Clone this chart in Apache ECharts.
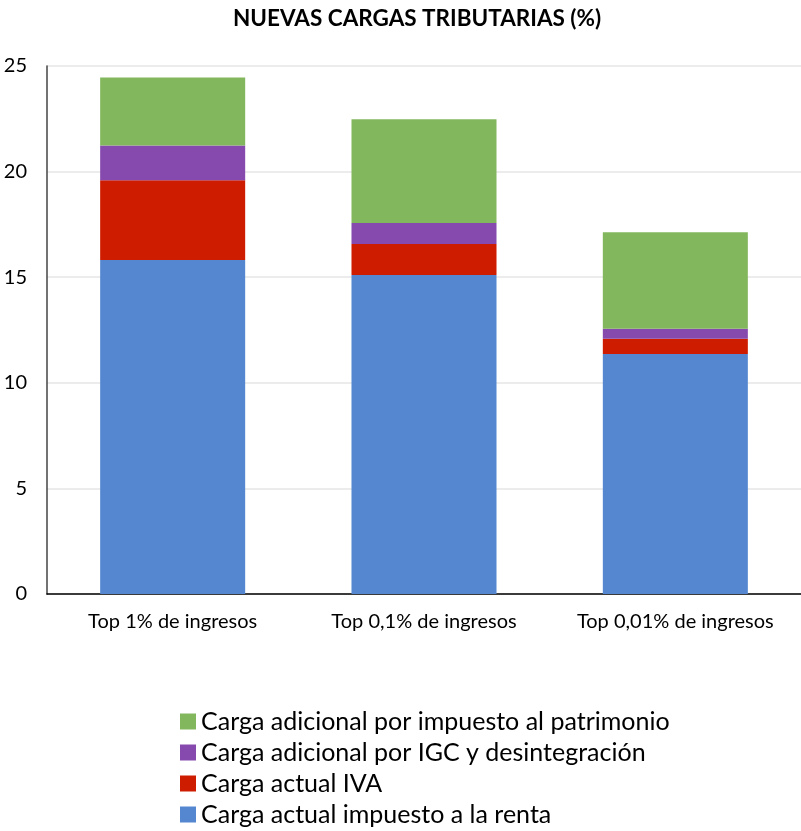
<!DOCTYPE html>
<html>
<head>
<meta charset="utf-8">
<script src="https://cdn.jsdelivr.net/npm/echarts@6/dist/echarts.min.js"></script>
<style>
  html, body { margin: 0; padding: 0; background: #fff; }
  #chart { width: 801px; height: 831px; }
</style>
</head>
<body>
<div id="chart"></div>
<script>
// Income groups on the x axis
const categories = ['Top 1% de ingresos', 'Top 0,1% de ingresos', 'Top 0,01% de ingresos'];

// Stacked components of the tax burden (%)
const rentaActual = [15.81, 15.10, 11.36];
const ivaActual = [3.78, 1.47, 0.73];
const igcDesintegracion = [1.64, 1.00, 0.47];
const patrimonio = [3.22, 4.91, 4.57];

const seriesNames = [
  'Carga actual impuesto a la renta',
  'Carga actual IVA',
  'Carga adicional por IGC y desintegración',
  'Carga adicional por impuesto al patrimonio'
];
const seriesData = [rentaActual, ivaActual, igcDesintegracion, patrimonio];
const seriesColors = ['#5587D0', '#CD1C00', '#8649AE', '#83B75D'];

const FONT = 'Lato, "Open Sans", sans-serif';

const chart = echarts.init(document.getElementById('chart'), null, { renderer: 'canvas' });

chart.setOption({
  animation: false,
  backgroundColor: '#ffffff',
  textStyle: { fontFamily: FONT },
  title: {
    text: 'NUEVAS CARGAS TRIBUTARIAS (%)',
    left: 228,
    top: 2,
    textStyle: { fontFamily: FONT, fontSize: 22.5, fontWeight: 'bold', color: '#000' }
  },
  legend: {
    data: seriesNames.slice().reverse(),
    orient: 'vertical',
    left: 180,
    top: 709,
    height: 130,
    padding: 0,
    itemWidth: 16,
    itemHeight: 16,
    itemGap: 6,
    icon: 'rect',
    textStyle: { fontFamily: FONT, fontSize: 25, lineHeight: 25, color: '#000' }
  },
  grid: { left: 47, right: 0, top: 66, bottom: 237 },
  xAxis: {
    type: 'category',
    data: categories,
    axisLine: { lineStyle: { color: '#000', width: 1.5 } },
    axisTick: { show: false },
    axisLabel: { fontFamily: FONT, fontSize: 20, color: '#000', margin: 18, interval: 0 }
  },
  yAxis: {
    type: 'value',
    min: 0,
    max: 25,
    interval: 5,
    axisLine: { show: true, lineStyle: { color: '#444', width: 1.5 } },
    axisTick: { show: false },
    splitLine: { lineStyle: { color: '#e6e6e6', width: 1.5 } },
    axisLabel: { fontFamily: FONT, fontSize: 20, color: '#000', margin: 20 }
  },
  series: seriesNames.map((name, i) => ({
    name: name,
    type: 'bar',
    stack: 'total',
    barWidth: '57.7%',
    data: seriesData[i],
    itemStyle: { color: seriesColors[i] }
  }))
});
</script>
</body>
</html>
